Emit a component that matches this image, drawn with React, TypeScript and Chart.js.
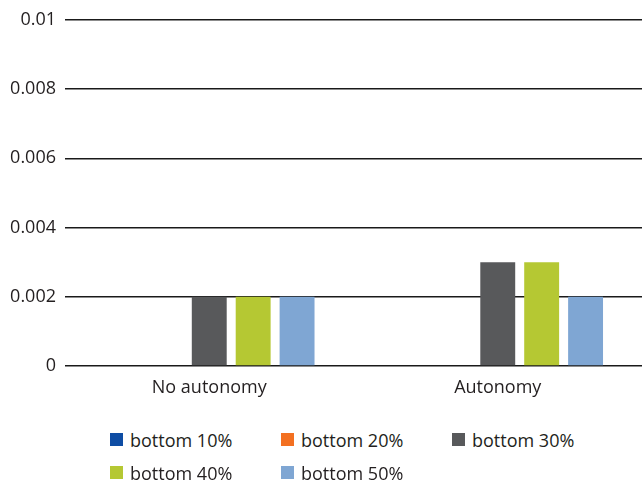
import React, { useEffect, useRef } from "react";
import { Chart, registerables } from "chart.js";

Chart.register(...registerables);

const categories = ["No autonomy", "Autonomy"];
const seriesNames = ["bottom 10%", "bottom 20%", "bottom 30%", "bottom 40%", "bottom 50%"];
const bottom10 = [0, 0];
const bottom20 = [0, 0];
const bottom30 = [0.002, 0.003];
const bottom40 = [0.002, 0.003];
const bottom50 = [0.002, 0.002];
const seriesColors = ["#0E4DA4", "#F37021", "#58595B", "#B5C833", "#7FA6D3"];
const yTicks = [0, 0.002, 0.004, 0.006, 0.008, 0.01];

const FONT = "'Open Sans', 'Noto Sans', sans-serif";
const TEXT = "#231F20";
const FS = 18;

export default function App() {
  const ref = useRef<HTMLCanvasElement | null>(null);

  useEffect(() => {
    if (!ref.current) return;
    const values = [bottom10, bottom20, bottom30, bottom40, bottom50];
    const chart = new Chart(ref.current, {
      type: "bar",
      data: {
        labels: categories,
        datasets: seriesNames.map((name, i) => ({
          label: name,
          data: values[i],
          backgroundColor: seriesColors[i],
          borderWidth: 0,
          categoryPercentage: 0.761,
          barPercentage: 0.795,
        })),
      },
      options: {
        animation: false,
        responsive: false,
        maintainAspectRatio: false,
        layout: { padding: { top: 19, right: 0, left: 0, bottom: 0 } },
        plugins: { legend: { display: false }, tooltip: { enabled: false } },
        scales: {
          x: {
            grid: { display: false },
            border: { display: false },
            ticks: { color: TEXT, font: { family: FONT, size: FS }, padding: 3 },
            afterFit: (s: any) => {
              s.height = 34;
            },
          },
          y: {
            min: 0,
            max: 0.01,
            afterBuildTicks: (s: any) => {
              s.ticks = yTicks.map((v) => ({ value: v }));
            },
            ticks: {
              color: TEXT,
              font: { family: FONT, size: FS },
              padding: 9,
              callback: (v: any) => String(Number(v)),
            },
            grid: { color: "#1a1a1a", lineWidth: 1.4, drawTicks: false },
            border: { display: false },
            afterFit: (s: any) => {
              s.width = 65;
            },
          },
        },
      },
    });
    return () => chart.destroy();
  }, []);

  const boxStyle = (c: string): React.CSSProperties => ({
    display: "inline-block",
    width: 13,
    height: 13,
    background: c,
    marginRight: 7,
  });

  const cols = [110, 281, 452];
  const rows = [433, 466];

  return (
    <div
      style={{
        position: "fixed",
        left: 0,
        top: 0,
        width: 642,
        height: 482,
        background: "#fff",
        fontFamily: FONT,
      }}
    >
      <canvas ref={ref} width={642} height={400} style={{ display: "block" }} />
      {seriesNames.map((name, i) => (
        <div
          key={name}
          style={{
            position: "absolute",
            left: cols[i % 3],
            top: rows[Math.floor(i / 3)] - 5,
            height: 23,
            display: "flex",
            alignItems: "center",
            fontSize: FS,
            color: TEXT,
            whiteSpace: "nowrap",
          }}
        >
          <span style={boxStyle(seriesColors[i])} />
          {name}
        </div>
      ))}
    </div>
  );
}
